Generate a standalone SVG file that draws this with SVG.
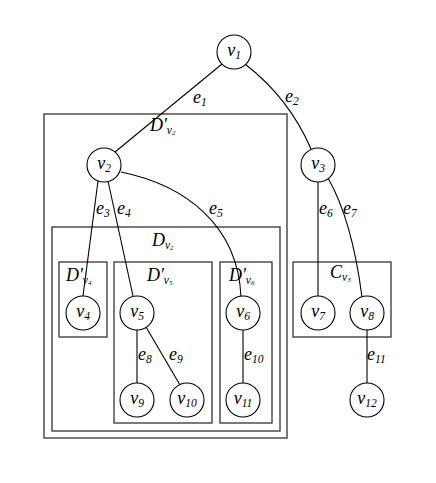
<svg xmlns="http://www.w3.org/2000/svg" width="436" height="483" viewBox="0 0 436 483">
<style>
.bg{fill:#fff}
.box{fill:none;stroke:#333;stroke-width:1.3}
.nd circle{fill:#fff;stroke:#000;stroke-width:1.1}
.e{fill:none;stroke:#000;stroke-width:1.1}
text{font-family:"Liberation Serif","Times New Roman",serif;font-style:italic;font-size:18px;fill:#000}
.s{font-size:11.5px}
.ss{font-size:7px}
</style>
<rect class="bg" width="436" height="483"/>
<g id="boxes">
<rect class="box" x="44" y="114" width="243" height="324"/>
<rect class="box" x="52" y="227" width="228" height="204"/>
<rect class="box" x="59" y="262" width="48" height="75"/>
<rect class="box" x="114" y="262" width="98" height="161"/>
<rect class="box" x="220" y="262" width="52" height="161"/>
<rect class="box" x="293" y="262" width="98" height="75"/>
</g>
<g id="connectors">
<line class="e" x1="222" y1="64" x2="115" y2="152"/>
<path class="e" d="M245,64 Q289,98 311,149"/>
<line class="e" x1="98" y1="181" x2="83" y2="296"/>
<line class="e" x1="108" y1="181" x2="133" y2="296"/>
<path class="e" d="M121,172 C185,185 238,225 241,297"/>
<line class="e" x1="318" y1="182" x2="318" y2="296"/>
<path class="e" d="M328,178 Q352,220 362,297"/>
<line class="e" x1="137" y1="330" x2="137" y2="383"/>
<line class="e" x1="146" y1="327" x2="180" y2="385"/>
<line class="e" x1="243" y1="330" x2="243" y2="383"/>
<line class="e" x1="367" y1="330" x2="367" y2="384"/>
</g>
<g id="labels">
<text x="193" y="103">e<tspan class="s" dy="3">1</tspan></text>
<text x="285" y="102">e<tspan class="s" dy="3">2</tspan></text>
<text x="96" y="214">e<tspan class="s" dy="3">3</tspan></text>
<text x="117" y="214">e<tspan class="s" dy="3">4</tspan></text>
<text x="209" y="214">e<tspan class="s" dy="3">5</tspan></text>
<text x="319" y="214">e<tspan class="s" dy="3">6</tspan></text>
<text x="343" y="214">e<tspan class="s" dy="3">7</tspan></text>
<text x="138" y="360">e<tspan class="s" dy="3">8</tspan></text>
<text x="169" y="360">e<tspan class="s" dy="3">9</tspan></text>
<text x="244" y="360">e<tspan class="s" dy="3">10</tspan></text>
<text x="367" y="360">e<tspan class="s" dy="3">11</tspan></text>
<text x="150" y="131">D'<tspan class="s" dy="3">v</tspan><tspan class="ss" dy="1">2</tspan></text>
<text x="152" y="246">D<tspan class="s" dy="3">v</tspan><tspan class="ss" dy="1">2</tspan></text>
<text x="66" y="281">D'<tspan class="s" dy="3">v</tspan><tspan class="ss" dy="1">4</tspan></text>
<text x="147" y="281">D'<tspan class="s" dy="3">v</tspan><tspan class="ss" dy="1">5</tspan></text>
<text x="229" y="281">D'<tspan class="s" dy="3">v</tspan><tspan class="ss" dy="1">6</tspan></text>
<text x="330" y="278">C<tspan class="s" dy="3">v</tspan><tspan class="ss" dy="1">3</tspan></text>
</g>
<g id="v1" class="nd"><circle cx="234" cy="52" r="17"/><text x="234" y="56" text-anchor="middle">v<tspan class="s" dy="3">1</tspan></text></g>
<g id="v2" class="nd"><circle cx="104" cy="165" r="17"/><text x="104" y="169" text-anchor="middle">v<tspan class="s" dy="3">2</tspan></text></g>
<g id="v3" class="nd"><circle cx="318" cy="165" r="17"/><text x="318" y="169" text-anchor="middle">v<tspan class="s" dy="3">3</tspan></text></g>
<g id="v4" class="nd"><circle cx="83" cy="313" r="17"/><text x="83" y="317" text-anchor="middle">v<tspan class="s" dy="3">4</tspan></text></g>
<g id="v5" class="nd"><circle cx="137" cy="313" r="17"/><text x="137" y="317" text-anchor="middle">v<tspan class="s" dy="3">5</tspan></text></g>
<g id="v6" class="nd"><circle cx="243" cy="313" r="17"/><text x="243" y="317" text-anchor="middle">v<tspan class="s" dy="3">6</tspan></text></g>
<g id="v7" class="nd"><circle cx="318" cy="313" r="17"/><text x="318" y="317" text-anchor="middle">v<tspan class="s" dy="3">7</tspan></text></g>
<g id="v8" class="nd"><circle cx="367" cy="313" r="17"/><text x="367" y="317" text-anchor="middle">v<tspan class="s" dy="3">8</tspan></text></g>
<g id="v9" class="nd"><circle cx="137" cy="400" r="17"/><text x="137" y="404" text-anchor="middle">v<tspan class="s" dy="3">9</tspan></text></g>
<g id="v10" class="nd"><circle cx="187" cy="400" r="17"/><text x="187" y="404" text-anchor="middle">v<tspan class="s" dy="3">10</tspan></text></g>
<g id="v11" class="nd"><circle cx="243" cy="400" r="17"/><text x="243" y="404" text-anchor="middle">v<tspan class="s" dy="3">11</tspan></text></g>
<g id="v12" class="nd"><circle cx="367" cy="400" r="17"/><text x="367" y="404" text-anchor="middle">v<tspan class="s" dy="3">12</tspan></text></g>
</svg>
